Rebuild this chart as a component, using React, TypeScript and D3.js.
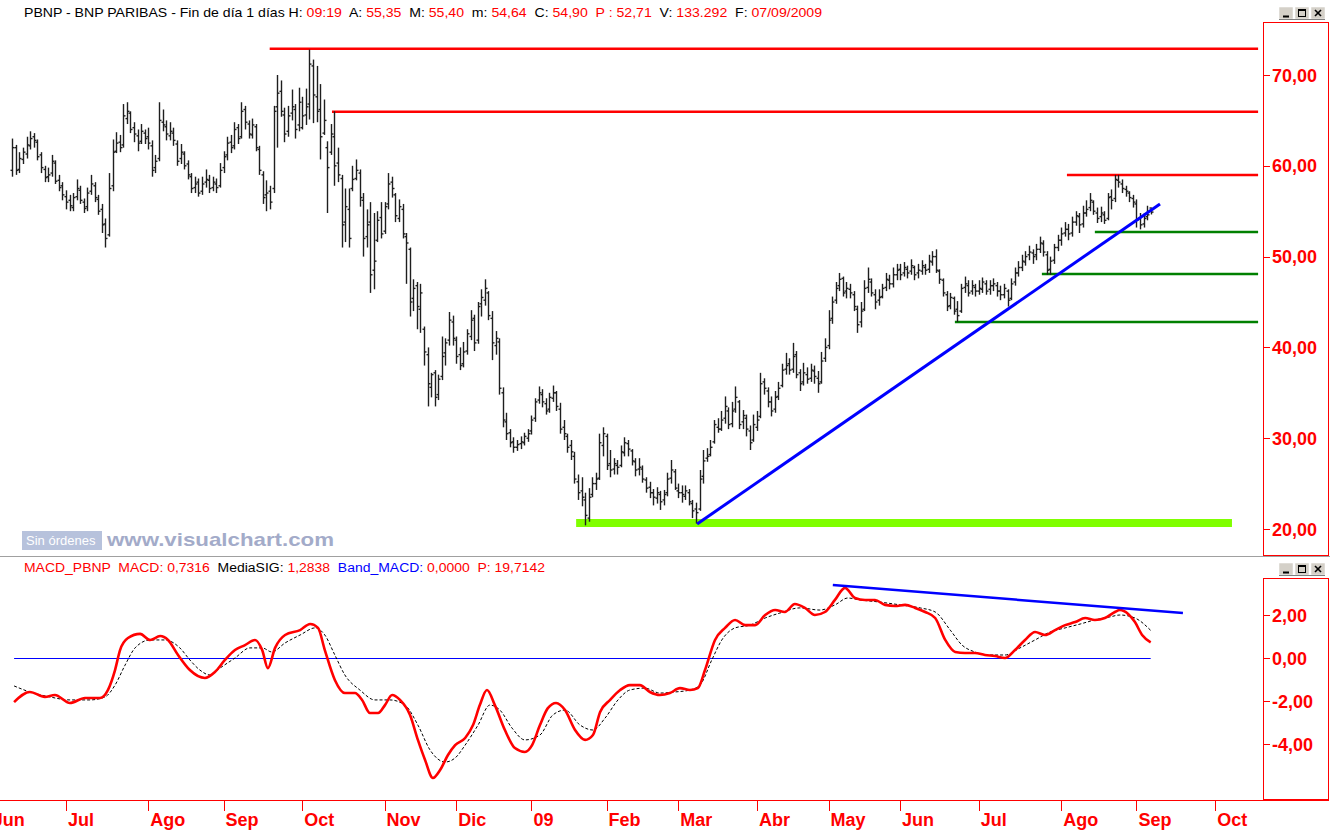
import React from "react";
import * as d3 from "d3";

// ---------- price bars (daily, 10 Jun 2008 .. 07 Sep 2009), one line per month ----------
const opens: number[] = [
  59.5, 62.0, 59.6, 60.7, 61.3, 62.2, 63.2, 62.6, 61.2, 59.6, 58.8, 59.2, 60.3, 58.4, 57.8,
  56.6, 56.2, 55.4, 56.6, 57.3, 56.0, 55.5, 57.2, 57.8, 56.3, 55.2, 53.6, 52.4, 57.8, 61.6, 62.6, 62.3, 65.2, 65.8, 64.2, 63.3, 62.7, 63.6,
  63.2, 62.2, 59.8, 60.8, 64.8, 64.3, 63.3, 63.6, 62.4, 60.8, 61.3, 60.2, 58.8, 57.6, 58.2, 57.2, 58.2, 58.4, 57.6, 58.0, 57.8,
  59.8, 61.2, 62.6, 62.2, 64.2, 63.2, 66.2, 64.6, 63.4, 64.3, 61.8, 59.0, 56.8, 57.2, 57.5, 66.5, 68.2, 65.6, 63.8, 65.8, 66.2, 64.5,
  64.2, 65.6, 66.8, 71.0, 67.6, 66.2, 63.6, 62.0, 61.5, 63.2, 60.3, 58.6, 53.8, 55.2, 57.5, 58.6, 59.2, 56.2, 52.2, 53.8, 48.5, 51.8, 54.3,
  52.8, 55.8, 58.2, 56.8, 54.2, 55.2, 52.2, 50.8, 45.4, 46.8, 44.2, 42.0, 39.2, 35.6, 37.2, 34.8, 36.8, 39.4, 40.8, 42.8,
  40.8, 39.2, 38.2, 39.6, 41.2, 43.2, 40.8, 44.8, 45.2, 46.0, 43.2, 40.2, 40.6, 35.0, 31.8, 30.6, 29.6, 29.0, 29.4, 29.5, 30.0,
  30.8, 32.2, 34.2, 34.8, 33.8, 33.2, 34.4, 35.0, 33.2, 31.2, 30.2, 29.2, 28.0, 25.2, 24.2, 23.2, 21.2, 23.8, 25.0, 25.6, 29.2,
  30.2, 27.2, 26.6, 27.0, 27.0, 28.4, 29.4, 28.6, 27.4, 26.6, 26.6, 25.4, 24.6, 24.0, 23.4, 23.8, 23.2, 24.0, 25.6, 26.3,
  24.2, 24.0, 23.6, 24.0, 22.8, 22.2, 22.2, 25.8, 27.8, 28.2, 29.6, 31.2, 31.0, 32.2, 33.0, 31.6, 33.2, 34.0, 31.8, 32.2, 30.8, 29.8,
  31.2, 32.4, 36.2, 35.2, 34.0, 33.2, 34.6, 35.8, 37.6, 38.2, 37.6, 39.2, 37.2, 36.2, 37.0, 36.6, 37.4, 36.6, 36.2, 38.8,
  40.2, 43.2, 45.2, 46.8, 47.6, 46.2, 46.4, 45.8, 44.2, 42.8, 44.2, 46.6, 47.2, 45.8, 45.2, 45.6, 46.6, 47.4, 47.0, 48.0,
  48.6, 48.2, 48.6, 48.4, 48.8, 48.2, 48.4, 48.8, 48.6, 49.4, 50.0, 48.4, 47.4, 45.8, 44.6, 45.4, 44.2, 44.0, 46.6, 46.8, 46.2, 46.6,
  46.2, 46.4, 47.0, 46.4, 46.8, 46.8, 46.2, 45.8, 46.2, 45.4, 47.2, 48.2, 48.8, 49.4, 50.2, 50.4, 50.2, 50.8, 51.4, 50.2, 48.6, 49.6, 51.0,
  51.8, 52.6, 53.0, 52.6, 53.8, 54.4, 53.6, 54.8, 55.4, 56.0, 54.8, 54.4, 54.6, 54.2, 56.6, 56.4, 58.4, 58.0, 57.4, 57.0, 56.4,
  55.8, 54.2, 53.6, 54.4, 55.35,
];
const highs: number[] = [
  63.0, 62.3, 61.5, 62.0, 63.2, 63.8, 63.6, 62.9, 61.5, 60.0, 59.8, 61.2, 60.6, 59.0, 58.2,
  57.3, 56.8, 57.0, 58.5, 57.8, 56.4, 57.6, 59.0, 58.2, 56.8, 55.8, 54.2, 59.2, 62.9, 63.7, 63.4, 66.8, 67.0, 66.0, 64.8, 64.0, 64.6, 64.0,
  64.2, 62.8, 61.2, 67.0, 66.2, 65.0, 64.8, 64.2, 62.8, 62.4, 61.6, 60.6, 59.2, 58.8, 58.6, 58.8, 59.6, 59.0, 58.8, 58.6, 60.3,
  61.6, 63.2, 63.4, 64.8, 64.6, 67.0, 66.6, 65.0, 65.2, 64.6, 62.2, 59.4, 58.4, 57.8, 66.6, 70.0, 69.4, 66.4, 66.6, 68.4, 66.8, 68.6,
  67.6, 68.5, 72.8, 71.7, 71.0, 69.0, 67.3, 62.7, 64.6, 66.0, 62.0, 59.0, 57.5, 57.5, 60.0, 60.7, 59.6, 57.0, 55.2, 56.0, 54.8, 55.0, 56.0,
  56.0, 59.2, 58.8, 57.0, 56.3, 55.8, 52.6, 51.0, 47.5, 47.2, 47.0, 42.3, 40.0, 37.2, 37.5, 37.0, 41.2, 41.0, 43.9, 43.5,
  41.2, 40.0, 40.6, 42.0, 44.1, 43.6, 45.0, 46.4, 47.5, 46.2, 44.0, 41.8, 41.0, 35.6, 32.8, 31.0, 30.1, 29.8, 30.2, 30.6, 31.0,
  32.5, 34.4, 35.7, 35.4, 34.4, 35.0, 35.8, 35.2, 33.9, 32.0, 30.5, 29.8, 28.5, 26.0, 25.7, 24.0, 24.5, 25.7, 26.2, 30.5, 31.2,
  30.5, 28.7, 27.8, 27.6, 29.2, 30.1, 29.8, 28.8, 27.8, 27.8, 27.0, 25.7, 25.2, 24.4, 24.6, 24.2, 24.3, 26.2, 27.6, 26.6,
  25.0, 24.8, 24.8, 24.4, 23.2, 22.9, 26.5, 28.7, 28.9, 29.8, 32.0, 32.2, 33.0, 34.6, 33.4, 34.0, 35.7, 34.2, 33.1, 32.6, 31.4, 32.6,
  33.0, 37.2, 36.6, 35.6, 34.6, 35.2, 36.2, 38.2, 39.4, 38.8, 40.5, 39.6, 37.6, 38.3, 37.8, 38.2, 38.0, 37.4, 39.5, 41.0,
  44.1, 45.6, 47.2, 48.2, 47.8, 47.2, 47.0, 46.2, 44.6, 45.0, 47.4, 48.8, 47.6, 46.4, 46.4, 47.0, 48.2, 48.0, 48.8, 49.2,
  49.2, 49.4, 49.0, 49.7, 49.0, 49.2, 49.6, 49.2, 50.2, 50.6, 50.8, 48.6, 47.6, 46.2, 46.0, 45.6, 45.1, 47.0, 47.8, 47.4, 47.4, 47.0,
  47.4, 47.7, 47.4, 47.4, 47.6, 47.2, 46.8, 47.0, 46.4, 47.6, 48.8, 49.5, 50.2, 50.6, 51.2, 50.8, 51.4, 52.2, 51.8, 50.6, 50.0, 51.4, 52.4,
  53.2, 53.8, 53.6, 54.4, 55.0, 54.8, 55.6, 56.2, 57.0, 56.2, 55.4, 55.5, 55.0, 57.0, 57.4, 59.0, 59.0, 58.5, 57.8, 57.2, 56.8,
  56.3, 54.8, 54.8, 55.6, 55.4,
];
const lows: number[] = [
  58.8, 59.0, 59.2, 60.2, 60.8, 61.8, 62.0, 60.6, 59.2, 58.2, 58.2, 58.8, 58.0, 57.2, 56.2,
  55.2, 55.0, 55.0, 56.2, 55.8, 54.8, 55.0, 56.8, 56.0, 54.6, 52.6, 51.0, 52.2, 57.2, 61.4, 61.5, 62.0, 64.6, 63.6, 62.6, 61.6, 62.4, 62.4,
  61.8, 58.8, 59.2, 60.5, 63.8, 62.8, 62.8, 62.2, 60.0, 60.2, 59.6, 58.5, 57.0, 57.0, 56.6, 56.8, 57.6, 57.0, 57.2, 57.0, 57.6,
  59.2, 60.6, 61.4, 61.8, 62.4, 63.0, 64.0, 63.0, 63.0, 61.6, 59.0, 55.8, 55.0, 55.2, 57.0, 62.0, 65.4, 62.6, 63.2, 65.0, 63.0, 63.8,
  64.0, 64.5, 65.1, 64.7, 64.8, 60.7, 63.4, 54.8, 61.2, 57.8, 58.2, 51.0, 51.6, 51.0, 57.2, 58.4, 55.5, 50.0, 51.0, 46.0, 46.4, 51.6, 52.0,
  52.5, 55.2, 56.5, 53.8, 53.8, 52.0, 47.0, 43.4, 44.0, 42.0, 41.6, 38.0, 33.5, 34.5, 33.5, 34.2, 36.4, 38.0, 40.2, 40.2,
  38.2, 37.5, 37.8, 39.2, 40.8, 39.6, 40.4, 43.4, 44.6, 43.0, 38.6, 39.2, 34.8, 31.2, 29.8, 29.0, 28.4, 28.6, 28.8, 29.2, 29.6,
  30.4, 31.8, 33.8, 33.4, 32.6, 32.8, 34.0, 33.0, 30.5, 29.8, 28.4, 27.6, 25.0, 23.2, 22.5, 20.4, 20.8, 23.5, 24.3, 25.4, 28.0,
  26.5, 25.7, 26.0, 26.0, 26.8, 28.0, 28.0, 27.0, 25.8, 25.9, 25.1, 24.0, 23.4, 22.6, 22.8, 22.1, 22.6, 23.6, 25.0, 24.3,
  23.4, 22.9, 23.2, 22.6, 21.2, 20.6, 22.0, 25.0, 27.4, 28.0, 29.4, 30.6, 30.8, 31.6, 31.0, 31.2, 32.8, 31.0, 31.0, 30.2, 28.7, 29.6,
  30.8, 32.2, 34.8, 33.4, 32.4, 32.8, 34.2, 35.6, 37.0, 37.0, 37.2, 36.6, 35.2, 35.8, 36.0, 36.2, 36.0, 35.0, 36.0, 38.4,
  39.8, 42.6, 44.8, 46.2, 45.6, 45.4, 45.4, 44.0, 41.6, 42.2, 44.0, 46.0, 45.6, 44.2, 44.6, 45.4, 46.2, 46.4, 46.6, 47.4,
  47.4, 47.8, 47.6, 48.0, 47.4, 47.6, 48.0, 48.0, 48.2, 49.0, 48.2, 47.0, 45.6, 44.0, 44.2, 43.6, 42.8, 43.8, 46.0, 45.6, 45.8, 45.6,
  45.8, 46.0, 45.8, 45.8, 46.2, 45.6, 45.2, 45.4, 44.5, 45.2, 46.8, 47.8, 48.4, 49.0, 49.6, 49.2, 49.6, 50.4, 50.0, 48.0, 48.0, 49.2, 50.6,
  51.2, 52.2, 51.8, 52.2, 53.4, 52.6, 53.2, 54.4, 55.0, 54.6, 53.7, 53.8, 53.6, 54.0, 55.2, 56.0, 57.6, 57.0, 56.6, 56.0, 55.4,
  53.2, 53.0, 53.2, 54.0, 54.64,
];
const closes: number[] = [
  62.0, 59.5, 60.8, 61.5, 62.3, 63.0, 62.8, 61.0, 59.8, 58.7, 59.0, 60.5, 58.3, 57.6, 56.8,
  56.0, 55.6, 56.5, 57.5, 56.2, 55.3, 57.0, 58.0, 56.5, 55.0, 53.5, 52.0, 57.5, 61.5, 62.5, 62.0, 65.5, 66.0, 64.0, 63.5, 62.5, 63.8, 63.0,
  62.5, 59.5, 60.5, 65.0, 64.5, 63.5, 63.8, 62.8, 60.5, 61.5, 60.0, 59.0, 57.5, 58.0, 57.0, 58.0, 58.5, 57.5, 58.2, 57.6, 59.5,
  61.0, 62.5, 62.0, 64.0, 63.0, 66.0, 64.8, 63.5, 64.5, 62.0, 59.5, 56.5, 57.0, 56.0, 66.0, 68.0, 66.0, 63.5, 65.5, 66.5, 64.0, 67.0,
  65.5, 66.5, 71.2, 67.8, 66.0, 63.2, 65.0, 59.8, 63.5, 60.0, 59.0, 53.5, 55.5, 52.0, 58.5, 59.5, 56.5, 52.0, 53.5, 48.0, 49.5, 54.0, 52.5,
  55.5, 58.0, 57.5, 54.5, 55.5, 52.5, 51.5, 45.0, 46.5, 44.5, 46.0, 39.5, 36.0, 37.0, 34.5, 36.5, 39.0, 40.5, 43.0, 41.0,
  39.0, 38.0, 39.5, 41.5, 43.0, 40.5, 44.5, 45.5, 46.5, 43.5, 40.5, 41.0, 35.5, 32.0, 30.5, 29.5, 29.0, 29.3, 29.6, 30.2, 30.5,
  32.0, 34.0, 35.0, 34.0, 33.0, 34.5, 35.0, 33.5, 31.0, 30.5, 29.0, 28.5, 25.5, 24.0, 23.5, 21.5, 23.5, 25.0, 25.5, 29.5, 30.5,
  27.0, 26.5, 27.2, 26.8, 28.5, 29.5, 28.8, 27.5, 26.5, 26.8, 25.5, 24.5, 24.0, 23.5, 24.0, 23.0, 23.8, 25.5, 26.5, 24.5,
  24.0, 23.8, 24.2, 23.0, 22.0, 21.8, 25.5, 27.5, 28.0, 29.0, 31.5, 31.0, 32.0, 33.5, 31.5, 33.0, 34.5, 31.5, 32.5, 31.0, 29.5, 31.5,
  32.0, 36.0, 35.5, 34.0, 33.0, 34.5, 35.5, 37.5, 38.0, 37.5, 39.0, 37.0, 36.0, 37.2, 36.5, 37.5, 36.8, 36.0, 38.5, 40.0,
  43.0, 45.0, 46.5, 47.5, 46.0, 46.5, 46.0, 44.5, 42.5, 44.0, 46.5, 47.5, 46.0, 45.0, 45.5, 46.5, 47.5, 47.0, 48.0, 48.5,
  48.0, 48.8, 48.2, 49.0, 48.0, 48.5, 49.0, 48.5, 49.5, 50.0, 48.5, 47.5, 46.0, 44.5, 45.5, 44.0, 43.5, 46.5, 47.0, 46.0, 46.8, 46.2,
  46.5, 47.2, 46.2, 46.8, 47.0, 46.2, 45.8, 46.5, 45.2, 47.0, 48.2, 48.8, 49.5, 50.0, 50.5, 50.0, 50.8, 51.5, 50.5, 48.5, 49.5, 51.0, 51.8,
  52.5, 53.0, 52.5, 53.8, 54.5, 53.5, 54.8, 55.2, 56.2, 55.0, 54.2, 54.8, 54.0, 56.5, 56.2, 58.5, 58.2, 57.5, 57.2, 56.5, 56.0,
  54.0, 53.5, 54.2, 54.6, 54.9,
];

// ---------- MACD panel: [bar index, value] ----------
const macdPts: [number, number][] = [
  [0.5, -2.05], [4.9, -1.58], [9.1, -1.81], [11.9, -1.72], [16.1, -2.09], [20.3, -1.86], [24.5, -1.86],
  [26.7, -1.49], [28.7, -0.56], [30.1, 0.37], [32.3, 0.93], [35.7, 1.12], [38.5, 0.84], [41.3, 1.02],
  [43.5, 0.84], [46.3, 0.14], [49.6, -0.56], [53.8, -0.93], [56.6, -0.65], [59.4, -0.09], [62.2, 0.37],
  [65.0, 0.6], [67.8, 0.84], [69.8, 0.37], [71.4, -0.47], [73.4, 0.47], [76.2, 1.07], [80.4, 1.3],
  [83.2, 1.58], [85.4, 1.4], [87.3, 0.37], [90.1, -1.02], [92.9, -1.63], [95.7, -1.63], [97.7, -1.95],
  [99.9, -2.56], [102.2, -2.56], [104.1, -2.19], [106.1, -1.72], [108.3, -1.95], [111.1, -2.65],
  [113.3, -3.81], [115.3, -4.74], [117.5, -5.58], [119.5, -5.21], [121.7, -4.51], [123.7, -4.05],
  [126.5, -3.72], [128.7, -3.12], [130.6, -2.19], [132.6, -1.49], [134.8, -2.19], [137.6, -3.35],
  [140.4, -4.19], [143.2, -4.37], [145.2, -4.05], [147.4, -3.12], [149.6, -2.33], [151.9, -2.09],
  [154.4, -2.42], [157.2, -3.35], [160.0, -3.81], [162.2, -3.58], [164.2, -2.51], [167.0, -1.95],
  [169.8, -1.49], [172.5, -1.26], [175.3, -1.26], [178.1, -1.58], [180.9, -1.72], [183.7, -1.63],
  [186.5, -1.4], [189.3, -1.49], [191.5, -1.4], [193.5, -0.56], [196.3, 0.84], [199.1, 1.4], [201.9, 1.77],
  [204.7, 1.53], [207.5, 1.53], [210.3, 2.0], [213.1, 2.23], [215.8, 2.14], [218.6, 2.51], [221.4, 2.33],
  [224.2, 2.0], [227.0, 2.14], [229.8, 2.7], [232.6, 3.26], [235.4, 2.79], [238.2, 2.7], [241.0, 2.7],
  [243.8, 2.47], [246.6, 2.42], [249.4, 2.47], [252.2, 2.33], [255.0, 2.14], [257.8, 1.86], [260.6, 0.84],
  [263.4, 0.28], [266.1, 0.23], [268.9, 0.23], [271.7, 0.14], [274.5, 0.09], [277.3, 0.0], [280.1, 0.37],
  [282.9, 0.84], [285.7, 1.21], [288.5, 1.07], [291.3, 1.3], [294.1, 1.53], [296.9, 1.67], [299.7, 1.86],
  [302.4, 1.77], [305.2, 1.86], [308.0, 2.14], [309.4, 2.23], [311.7, 2.05], [313.6, 1.67], [315.6, 1.07],
  [318, 0.7316],
];
const signalPts: [number, number][] = [
  [0.5, -1.3], [4.9, -1.58], [10.5, -1.81], [16.1, -1.95], [21.7, -1.95], [25.9, -1.81], [28.7, -1.26],
  [31.5, -0.33], [34.3, 0.47], [38.5, 0.84], [42.7, 0.84], [46.8, 0.47], [49.6, -0.09], [52.4, -0.56],
  [55.2, -0.79], [58.0, -0.47], [62.2, 0.0], [66.4, 0.47], [69.8, 0.47], [72.5, 0.28], [76.2, 0.7],
  [80.4, 1.07], [84.6, 1.4], [87.3, 1.07], [90.1, 0.14], [92.9, -0.79], [97.1, -1.49], [101.3, -1.95],
  [105.5, -1.95], [109.7, -2.19], [113.3, -3.12], [116.7, -4.28], [120.9, -4.84], [123.7, -4.65],
  [126.5, -4.05], [130.1, -3.12], [133.4, -2.19], [136.2, -2.42], [139.6, -3.26], [143.2, -3.81],
  [147.4, -3.58], [151.0, -2.65], [154.4, -2.42], [158.6, -3.12], [162.2, -3.35], [165.6, -2.79],
  [169.2, -1.95], [172.5, -1.49], [176.7, -1.4], [180.9, -1.63], [185.1, -1.58], [189.3, -1.49],
  [192.1, -1.26], [195.4, -0.09], [198.2, 0.84], [201.9, 1.4], [206.1, 1.53], [210.3, 1.86], [214.4, 2.09],
  [220.0, 2.33], [225.6, 2.23], [229.8, 2.47], [233.4, 2.79], [236.8, 2.7], [242.4, 2.6], [248.0, 2.47],
  [253.6, 2.33], [257.8, 2.14], [262.0, 1.3], [265.3, 0.6], [268.9, 0.28], [273.1, 0.14], [277.3, 0.14],
  [281.5, 0.47], [285.7, 0.84], [289.9, 1.21], [294.1, 1.4], [298.3, 1.58], [302.4, 1.77], [306.6, 1.91],
  [309.4, 2.0], [313.6, 1.86], [318, 1.2838],
];

// ---------- drawn studies (bar index, price) ----------
const resistances: { price: number; from: number; to: number }[] = [
  { price: 72.9, from: 71.9, to: 348 },
  { price: 65.95, from: 89.3, to: 348 },
  { price: 59.0, from: 294.6, to: 348 },
];
const supports: { price: number; from: number; to: number }[] = [
  { price: 52.71, from: 302.4, to: 348 },
  { price: 48.08, from: 287.6, to: 348 },
  { price: 42.8, from: 263.3, to: 348 },
];
const floorBand = { price: 20.66, from: 157.5, to: 340.7 };
const trendLine: [number, number][] = [[191.3, 20.55], [320.6, 55.8]];
const macdTrend: [number, number][] = [[229.2, 3.4], [327, 2.09]];
const macdBand = { value: 0, from: 0.5, to: 318 };

// ---------- axes ----------
const priceTicks = [20, 30, 40, 50, 60, 70];
const macdTicks = [2, 0, -2, -4];
const monthNames = ["Ene", "Feb", "Mar", "Abr", "May", "Jun", "Jul", "Ago", "Sep", "Oct", "Nov", "Dic"];
const holidays = ["2008-12-25", "2008-12-26", "2009-01-01", "2009-04-10", "2009-04-13", "2009-05-01"];
const calendarStart = "2008-06-02";
const firstBarDate = "2008-06-10";
const calendarEnd = "2009-10-30";

const FONT = "'Liberation Sans', Arial, Helvetica, sans-serif";

function iso(d: Date) {
  return d.toISOString().slice(0, 10);
}
function tradingDays(start: string, end: string): Date[] {
  const out: Date[] = [];
  const hs = new Set(holidays);
  const d = new Date(start + "T00:00:00Z");
  const e = new Date(end + "T00:00:00Z");
  while (d <= e) {
    const wd = d.getUTCDay();
    if (wd !== 0 && wd !== 6 && !hs.has(iso(d))) out.push(new Date(d.getTime()));
    d.setUTCDate(d.getUTCDate() + 1);
  }
  return out;
}

function WinButtons({ x, y }: { x: number; y: number }) {
  return (
    <g>
      {[0, 1, 2].map((k) => (
        <rect key={k} x={x + k * 16} y={y} width={14} height={12} fill="#d4d0c8" stroke="#ffffff" strokeWidth={0.5} />
      ))}
      <line x1={x + 4} x2={x + 10} y1={y + 9.5} y2={y + 9.5} stroke="#000" strokeWidth={2} />
      <rect x={x + 16 + 3.5} y={y + 2.5} width={7} height={7} fill="none" stroke="#000" strokeWidth={1} />
      <line x1={x + 19.5} x2={x + 26.5} y1={y + 3} y2={y + 3} stroke="#000" strokeWidth={2} />
      <line x1={x + 36} x2={x + 42} y1={y + 3} y2={y + 9} stroke="#000" strokeWidth={1.6} />
      <line x1={x + 42} x2={x + 36} y1={y + 3} y2={y + 9} stroke="#000" strokeWidth={1.6} />
      <line x1={x} x2={x + 46} y1={y + 12.5} y2={y + 12.5} stroke="#808080" strokeWidth={1} />
    </g>
  );
}

export default function App() {
  const W = 1337;
  const H = 832;
  const n = Math.min(opens.length, highs.length, lows.length, closes.length);

  const cal = tradingDays(calendarStart, calendarEnd);
  const offset = cal.findIndex((d) => iso(d) === firstBarDate);

  const x = d3.scaleLinear().domain([0, 318]).range([12.3, 1150.7]);
  const yP = d3.scaleLinear().domain([20, 70]).range([529, 75]);
  const yM = d3.scaleLinear().domain([-4, 2]).range([744, 615]);

  const monthTicks: { x: number; label: string }[] = [];
  cal.forEach((d, ci) => {
    const prev = cal[ci - 1];
    if (!prev || prev.getUTCMonth() !== d.getUTCMonth()) {
      const m = d.getUTCMonth();
      const label = m === 0 ? String(d.getUTCFullYear()).slice(2) : monthNames[m];
      monthTicks.push({ x: x(ci - offset), label });
    }
  });

  const bars = d3.range(n).map((i) => {
    const o = opens[i], c = closes[i];
    const h = Math.max(highs[i], o, c), l = Math.min(lows[i], o, c);
    const xi = Math.round(x(i)) + 0.5;
    return { xi, o: yP(o), h: yP(h), l: yP(l), c: yP(c) };
  });

  const lineM = d3
    .line<[number, number]>()
    .x((d) => x(d[0]))
    .y((d) => yM(d[1]))
    .curve(d3.curveMonotoneX);

  const plotRight = 1263;

  return (
    <svg
      width={W}
      height={H}
      viewBox={`0 0 ${W} ${H}`}
      style={{ position: "absolute", left: 0, top: 0, display: "block", background: "#fff" }}
      fontFamily={FONT}
    >
      <defs>
        <clipPath id="clipTop">
          <rect x={0} y={22} width={plotRight} height={533} />
        </clipPath>
        <clipPath id="clipBot">
          <rect x={0} y={578} width={plotRight} height={221} />
        </clipPath>
      </defs>
      <rect x={0} y={0} width={W} height={H} fill="#ffffff" />

      {/* ---------- header ---------- */}
      <text x={24} y={17} fontSize={13.5} textLength={798} lengthAdjust="spacingAndGlyphs" style={{ whiteSpace: "pre" }}>
        <tspan fill="#000">PBNP - BNP PARIBAS - Fin de día 1 días H: </tspan>
        <tspan fill="#ff0000">09:19</tspan>
        <tspan fill="#000">  A: </tspan>
        <tspan fill="#ff0000">55,35</tspan>
        <tspan fill="#000">  M: </tspan>
        <tspan fill="#ff0000">55,40</tspan>
        <tspan fill="#000">  m: </tspan>
        <tspan fill="#ff0000">54,64</tspan>
        <tspan fill="#000">  C: </tspan>
        <tspan fill="#ff0000">54,90</tspan>
        <tspan fill="#ff0000">  P : 52,71</tspan>
        <tspan fill="#000">  V: </tspan>
        <tspan fill="#ff0000">133.292</tspan>
        <tspan fill="#000">  F: </tspan>
        <tspan fill="#ff0000">07/09/2009</tspan>
      </text>
      <WinButtons x={1279} y={7} />

      {/* ---------- price panel ---------- */}
      <g clipPath="url(#clipTop)">
        <rect
          x={x(floorBand.from)}
          y={yP(floorBand.price) - 4}
          width={x(floorBand.to) - x(floorBand.from)}
          height={8}
          fill="#80ff00"
        />
        {resistances.map((r, k) => (
          <line key={"r" + k} x1={x(r.from)} x2={x(r.to)} y1={yP(r.price)} y2={yP(r.price)} stroke="#ff0000" strokeWidth={2.5} />
        ))}
        {supports.map((r, k) => (
          <line key={"s" + k} x1={x(r.from)} x2={x(r.to)} y1={yP(r.price)} y2={yP(r.price)} stroke="#008000" strokeWidth={2.5} />
        ))}
        <g stroke="#1e1e1e" strokeWidth={1.4}>
          {bars.map((b, i) => (
            <g key={i}>
              <line x1={b.xi} x2={b.xi} y1={b.h} y2={b.l} />
              <line x1={b.xi - 2} x2={b.xi} y1={b.o} y2={b.o} />
              <line x1={b.xi} x2={b.xi + 2} y1={b.c} y2={b.c} />
            </g>
          ))}
        </g>
        <line
          x1={x(trendLine[0][0])}
          y1={yP(trendLine[0][1])}
          x2={x(trendLine[1][0])}
          y2={yP(trendLine[1][1])}
          stroke="#0000ff"
          strokeWidth={3}
        />
      </g>

      {/* watermark */}
      <rect x={22} y={531} width={80} height={19} fill="#b7c2dc" />
      <text x={26} y={545} fontSize={13} fill="#ffffff">Sin órdenes</text>
      <text x={107} y={546} fontSize={19} fontWeight="bold" fill="#a3abc9" textLength={227} lengthAdjust="spacingAndGlyphs">
        www.visualchart.com
      </text>

      {/* right price axis */}
      <rect x={1263.5} y={22.5} width={65} height={533} fill="none" stroke="#ff0000" strokeWidth={1} />
      {priceTicks.map((v) => (
        <g key={v}>
          <line x1={1264} x2={1270} y1={Math.round(yP(v)) + 0.5} y2={Math.round(yP(v)) + 0.5} stroke="#ff0000" />
          <text x={1272} y={yP(v) + 6.5} fontSize={18} fontWeight="bold" fill="#ff0000">
            {d3.format(".2f")(v).replace(".", ",")}
          </text>
        </g>
      ))}

      {/* separator */}
      <line x1={0} x2={1330} y1={556.5} y2={556.5} stroke="#a0a0a0" strokeWidth={1} />

      {/* ---------- MACD panel ---------- */}
      <text x={24} y={572} fontSize={12.5} textLength={521} lengthAdjust="spacingAndGlyphs" style={{ whiteSpace: "pre" }}>
        <tspan fill="#ff0000">MACD_PBNP  MACD: 0,7316  </tspan>
        <tspan fill="#000">MediaSIG: </tspan>
        <tspan fill="#ff0000">1,2838  </tspan>
        <tspan fill="#0000ff">Band_MACD: </tspan>
        <tspan fill="#ff0000">0,0000  P: 19,7142</tspan>
      </text>
      <WinButtons x={1279} y={563} />

      <g clipPath="url(#clipBot)">
        <line
          x1={x(macdBand.from)}
          x2={x(macdBand.to)}
          y1={Math.round(yM(macdBand.value)) + 0.5}
          y2={Math.round(yM(macdBand.value)) + 0.5}
          stroke="#0000ff"
          strokeWidth={1}
        />
        <path d={lineM(signalPts) || ""} fill="none" stroke="#000" strokeWidth={1} strokeDasharray="3,2" />
        <path d={lineM(macdPts) || ""} fill="none" stroke="#ff0000" strokeWidth={2.6} />
        <line
          x1={x(macdTrend[0][0])}
          y1={yM(macdTrend[0][1])}
          x2={x(macdTrend[1][0])}
          y2={yM(macdTrend[1][1])}
          stroke="#0000ff"
          strokeWidth={2.5}
        />
      </g>

      <rect x={1263.5} y={578.5} width={65} height={221} fill="none" stroke="#ff0000" strokeWidth={1} />
      {macdTicks.map((v) => (
        <g key={v}>
          <line x1={1264} x2={1270} y1={Math.round(yM(v)) + 0.5} y2={Math.round(yM(v)) + 0.5} stroke="#ff0000" />
          <text x={1272} y={yM(v) + 6.5} fontSize={18} fontWeight="bold" fill="#ff0000">
            {d3.format(".2f")(v).replace(".", ",").replace("−", "-")}
          </text>
        </g>
      ))}

      {/* ---------- time axis ---------- */}
      <line x1={0} x2={1329} y1={800.5} y2={800.5} stroke="#ff0000" strokeWidth={1} />
      {monthTicks.map((t, k) => (
        <g key={k}>
          <line x1={Math.round(t.x) + 0.5} x2={Math.round(t.x) + 0.5} y1={800} y2={811} stroke="#ff0000" />
          <text x={t.x + 2} y={826} fontSize={18} fontWeight="bold" fill="#ff0000">
            {t.label}
          </text>
        </g>
      ))}
    </svg>
  );
}
